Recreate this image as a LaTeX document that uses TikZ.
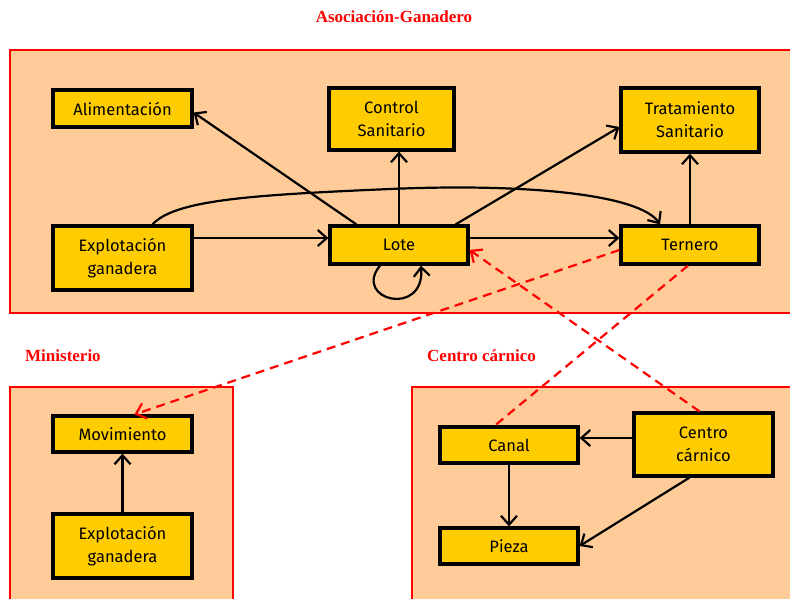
\documentclass[tikz,border=0pt]{standalone}
\usepackage{fontspec}
\setmainfont{Liberation Serif}
\newfontfamily\boxfont{Fira Sans}
\usetikzlibrary{arrows.meta,positioning,calc}
\definecolor{boxfill}  {HTML}{FFCC00}
\definecolor{areafill} {HTML}{FFCC99}
\definecolor{arearule} {HTML}{FF0000}

\begin{document}
\begin{tikzpicture}[
  x=1pt, y=-1pt,
  area/.style={draw=arearule, fill=areafill, line width=2.2pt},
  areatitle/.style={font=\fontsize{17}{20}\selectfont\bfseries, text=arearule, inner sep=0pt},
  ent/.style={rectangle, draw=black, fill=boxfill, line width=3.2pt, align=center,
              font=\boxfont\fontsize{16.5}{23}\selectfont, inner sep=2pt},
  rel/.style={draw=black, line width=2.2pt, -{Straight Barb[length=9pt,width=16pt]}},
  link/.style={draw=arearule, line width=2.2pt, dash pattern=on 9pt off 6pt}
]
\useasboundingbox (0,0) rectangle (790,598);
% areas
\draw[area] (10,50) rectangle (800,313);
\draw[area] (10,387) rectangle (233,610);
\draw[area] (412,387) rectangle (800,610);
\node[areatitle] (tAsoc) at (394,17) {Asociación-Ganadero};
\node[areatitle, anchor=west] (tMin) at (25,356) {Ministerio};
\node[areatitle, anchor=west] (tCen) at (427,356) {Centro cárnico};
% entities
\node[ent, minimum width=139, minimum height=37] (alim) at (122.5,108.5) {Alimentación};
\node[ent, minimum width=125, minimum height=62] (ctrl) at (391.5,119) {Control\\Sanitario};
\node[ent, minimum width=138, minimum height=64] (trat) at (690,120) {Tratamiento\\Sanitario};
\node[ent, minimum width=139, minimum height=64] (expl) at (122.5,258) {Explotación\\ganadera};
\node[ent, minimum width=138, minimum height=38] (lote) at (399,245) {Lote};
\node[ent, minimum width=138, minimum height=38] (tern) at (690,245) {Ternero};
\node[ent, minimum width=139, minimum height=36] (mov) at (122.5,434) {Movimiento};
\node[ent, minimum width=139, minimum height=64] (expl2) at (122.5,546) {Explotación\\ganadera};
\node[ent, minimum width=138, minimum height=36] (canal) at (509,445) {Canal};
\node[ent, minimum width=139, minimum height=63] (centro) at (703.5,444.5) {Centro\\cárnico};
\node[ent, minimum width=138, minimum height=36] (pieza) at (509,546) {Pieza};
% relations
\draw[rel] ([xshift=28pt]lote.north west) -- ([yshift=-4pt]alim.east);
\draw[rel] (lote.north) -- (lote.north |- ctrl.south);
\draw[rel] ([xshift=-14pt]lote.north east) -- ([yshift=-7pt]trat.west);
\draw[rel] ([yshift=7pt]lote.west -| expl.east) -- ([yshift=7pt]lote.west);
\draw[rel] ([yshift=7pt]lote.east) -- ([yshift=7pt]tern.west);
\draw[rel] (tern.north) -- (trat.south);
\draw[rel] ([xshift=30pt]expl.north) .. controls (175,200) and (250,195) .. (390,189)
  .. controls (530,183) and (640,195) .. ([xshift=-30pt]tern.north);
\draw[rel] ([xshift=-19pt]lote.south) .. controls (352,300) and (425,318) .. ([xshift=22pt]lote.south);
\draw[rel] (expl2.north) -- (mov.south);
\coordinate (cc) at ([yshift=7pt]canal.east);
\draw[rel] (cc -| centro.west) -- (cc);
\draw[rel] (canal.south) -- (pieza.north);
\draw[rel] ([xshift=-14pt]centro.south) -- (pieza.east);
% links between areas
\draw[link, -{Straight Barb[length=9pt,width=16pt]}] ([yshift=-5pt]tern.west) -- ([xshift=12pt]mov.north);
\draw[link, -{Straight Barb[length=9pt,width=16pt]}] ([xshift=-4pt]centro.north) -- ([yshift=-5pt]lote.east);
\draw[link] ([xshift=-2pt]tern.south) -- ([xshift=-14pt]canal.north);
\end{tikzpicture}
\end{document}
